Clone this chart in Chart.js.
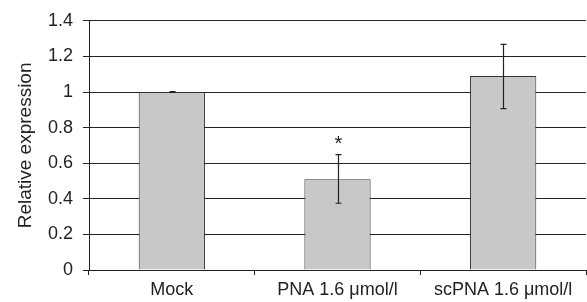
<!DOCTYPE html>
<html>
<head>
<meta charset="utf-8">
<script src="https://cdn.jsdelivr.net/npm/chart.js@4"></script>
<style>
html,body{margin:0;padding:0;background:#fff;}
#wrap{width:587px;height:302px;position:relative;}
</style>
</head>
<body>
<div id="wrap"><canvas id="c" width="587" height="302"></canvas></div>
<script>
const categories = ['Mock', 'PNA 1.6 \u03bcmol/l', 'scPNA 1.6 \u03bcmol/l'];
const values = [1.0, 0.51, 1.09];
const errLow = [0.998, 0.375, 0.907];
const errHigh = [1.002, 0.648, 1.267];
const markers = ['', '*', ''];
const yTickLabels = ['0', '0.2', '0.4', '0.6', '0.8', '1', '1.2', '1.4'];

const FONT = '"Liberation Sans", Arial, Helvetica, sans-serif';

const errorBars = {
  id: 'errorBars',
  afterDatasetsDraw(chart) {
    const ctx = chart.ctx;
    const meta = chart.getDatasetMeta(0);
    const y = chart.scales.y;
    ctx.save();
    ctx.strokeStyle = '#222';
    ctx.lineWidth = 1.2;
    meta.data.forEach((bar, i) => {
      const x = Math.round(bar.x) + 0.5;
      const yl = y.getPixelForValue(errLow[i]);
      const yh = y.getPixelForValue(errHigh[i]);
      ctx.beginPath();
      ctx.moveTo(x, yl); ctx.lineTo(x, yh);
      ctx.moveTo(x - 3, yl); ctx.lineTo(x + 3, yl);
      ctx.moveTo(x - 3, yh); ctx.lineTo(x + 3, yh);
      ctx.stroke();
      if (markers[i]) {
        ctx.fillStyle = '#222';
        ctx.font = '20px ' + FONT;
        ctx.textAlign = 'center';
        ctx.textBaseline = 'middle';
        ctx.fillText(markers[i], x, yh - 10);
      }
    });
    ctx.restore();
  }
};

new Chart(document.getElementById('c'), {
  type: 'bar',
  data: {
    labels: categories,
    datasets: [{
      data: values,
      backgroundColor: '#c8c8c8',
      borderColor: '#333',
      borderWidth: 1,
      categoryPercentage: 1.0,
      barPercentage: 0.4
    }]
  },
  options: {
    responsive: false,
    animation: false,
    devicePixelRatio: 1,
    layout: { padding: { top: 20, right: 1, left: 0, bottom: 0 } },
    plugins: { legend: { display: false }, tooltip: { enabled: false } },
    scales: {
      x: {
        grid: { drawOnChartArea: false, drawTicks: true, tickLength: 5, color: '#222', offset: true },
        border: { color: '#222', width: 1 },
        ticks: { color: '#222', font: { family: FONT, size: 18 }, padding: 4, maxRotation: 0, autoSkip: false },
        afterFit(scale) { scale.height = 32; }
      },
      y: {
        min: 0, max: 1.4,
        ticks: {
          stepSize: 0.2,
          color: '#222',
          font: { family: FONT, size: 18 },
          padding: 10,
          callback: (v, i) => yTickLabels[i]
        },
        grid: { color: '#222', lineWidth: 1, tickLength: 6 },
        border: { color: '#222', width: 1 },
        title: {
          display: true,
          text: 'Relative expression',
          color: '#222',
          font: { family: FONT, size: 19 },
          padding: { top: 14, bottom: 0 }
        },
        afterFit(scale) { scale.width = 89; }
      }
    }
  },
  plugins: [errorBars]
});
</script>
</body>
</html>
